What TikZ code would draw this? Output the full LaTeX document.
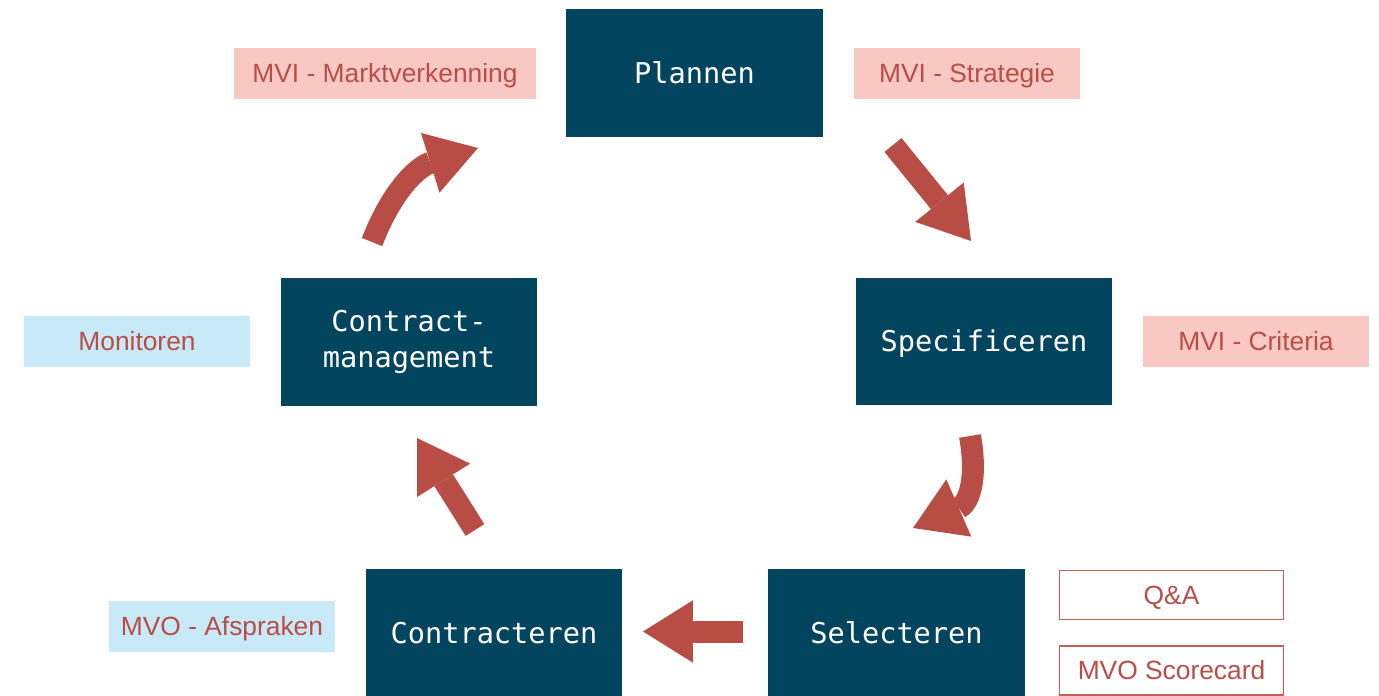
\documentclass[tikz,border=0pt]{standalone}
\usepackage{fontspec}
\setmainfont{Liberation Sans}
\newfontfamily\boxfont{DejaVu Sans Mono}
\usepackage{tikz}
\usetikzlibrary{arrows.meta}

\definecolor{phaseblue}{HTML}{03445F}
\definecolor{tagpink}{HTML}{F9C8C2}
\definecolor{tagsky}{HTML}{C8E9F8}
\definecolor{tagred}{HTML}{B94E47}
\definecolor{flowred}{HTML}{B84D45}

\tikzset{
	phase/.style={shape=rectangle,fill=phaseblue,text=white,minimum width=5.14cm,minimum height=2.56cm,
		align=center,inner sep=0pt,font=\boxfont\fontsize{16.3}{20.5}\selectfont},
	oneline/.style={text height=11.9pt,text depth=0pt},
	tag/.style={shape=rectangle,text=tagred,minimum width=4.52cm,minimum height=1.02cm,inner sep=0pt,
		text height=10.7pt,text depth=0pt,font=\fontsize{15}{18}\selectfont},
	pinktag/.style={tag,fill=tagpink},
	skytag/.style={tag,fill=tagsky},
	linetag/.style={tag,draw=tagred!90,line width=1pt,fill=white,minimum width=4.48cm,minimum height=0.98cm},
	flow/.style={draw=flowred,line width=0.44cm,
		-{Triangle[width=1.25cm,length=1.0cm,line width=0pt]}}
}

\begin{document}
\begin{tikzpicture}[x=0.02cm,y=-0.02cm]
	\useasboundingbox (0,0) rectangle (1379,696);

	% phases
	\node[phase,oneline] (plan) at (694.5, 73)   {Plannen};
	\node[phase,oneline] (spec) at (984, 341.5)  {Specificeren};
	\node[phase,oneline] (sel)  at (896.5, 633)  {Selecteren};
	\node[phase,oneline] (con)  at (494, 633)    {Contracteren};
	\node[phase] (cm)   at (409, 342)  {Contract-\\management};

	% tags
	\node[pinktag,minimum width=6.04cm] (markt) at (385, 73.5) {MVI - Marktverkenning};
	\node[pinktag] (strat) at (967, 73.5)    {MVI - Strategie};
	\node[pinktag] (crit)  at (1256, 341.5)  {MVI - Criteria};
	\node[skytag]  (mon)   at (137, 341.5)   {Monitoren};
	\node[skytag]  (afs)   at (222, 626.5)   {MVO - Afspraken};
	\node[linetag] (qa)    at (1171.5, 595)  {Q\&A};
	\node[linetag] (score) at (1171.5, 670.5) {MVO Scorecard};

	% arrow ends
	\coordinate (plan-out) at (893, 145);
	\coordinate (spec-in)  at (971, 241);
	\coordinate (spec-out) at (970, 436);
	\coordinate (sel-in)   at (913, 528);
	\coordinate (sel-out)  at (743, 631.5);
	\coordinate (con-in)   at (643, 631.5);
	\coordinate (con-out)  at (475, 530);
	\coordinate (cm-in)    at (417, 438);
	\coordinate (cm-out)   at (372, 242);
	\coordinate (plan-in)  at (478, 148);

	\draw[flow] (plan-out) -- (spec-in);
	\draw[flow] (spec-out) .. controls (978, 482) and (968, 504) .. (sel-in);
	\draw[flow] (sel-out) -- (con-in);
	\draw[flow] (con-out) -- (cm-in);
	\draw[flow] (cm-out) .. controls (394, 186) and (420, 166) .. (plan-in);
\end{tikzpicture}
\end{document}
